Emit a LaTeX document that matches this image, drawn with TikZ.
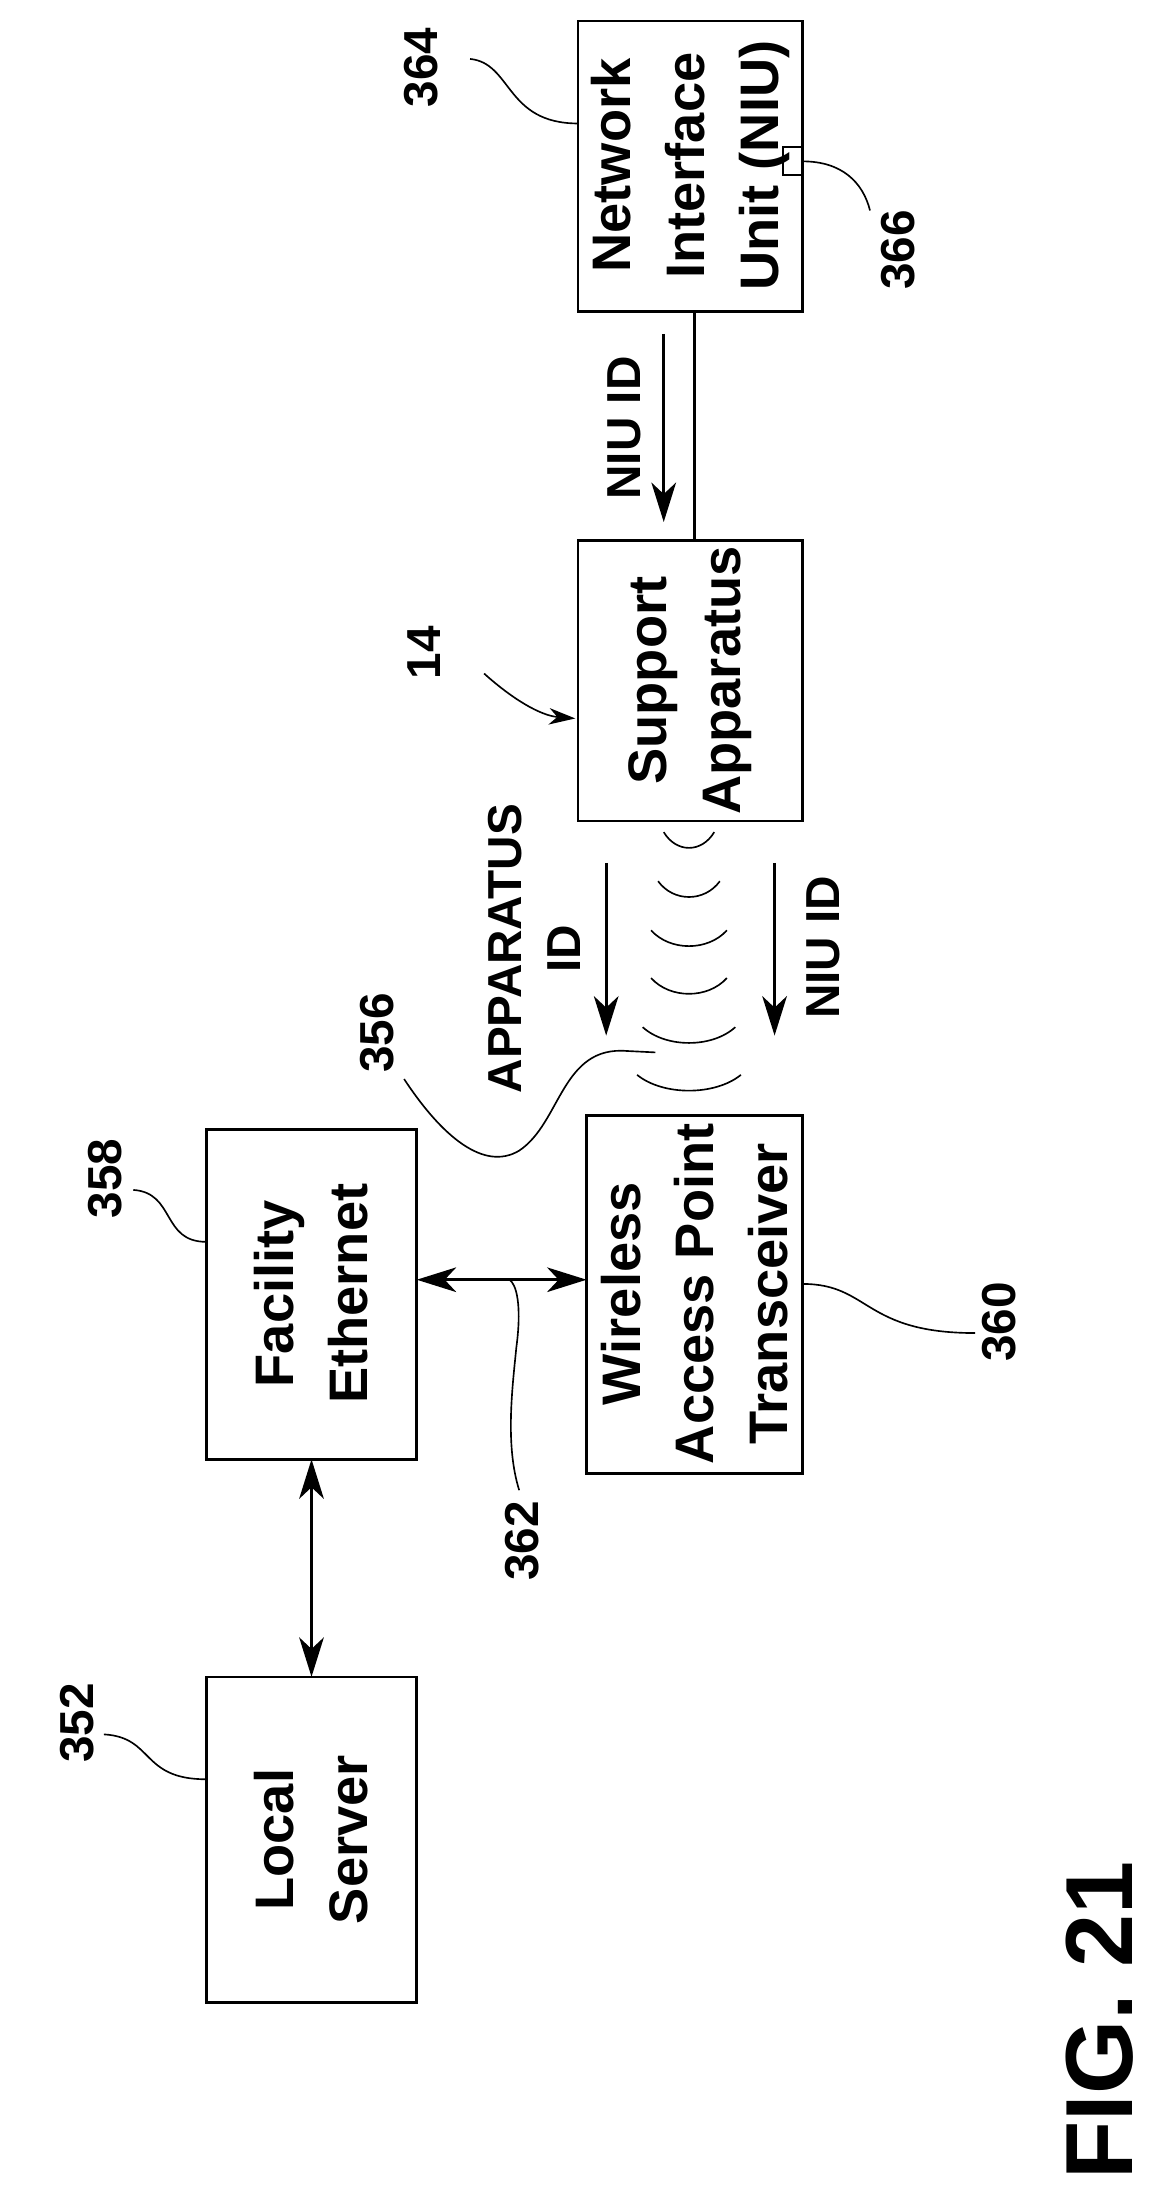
\documentclass[tikz,border=0pt]{standalone}
\usepackage{fontspec}
\setmainfont{Liberation Sans}
\usetikzlibrary{arrows.meta}
\begin{document}
\begin{tikzpicture}[x=0.3mm,y=-0.3mm,
  box/.style={draw,line width=1.6pt},
  txt/.style={rotate=90,font=\fontsize{33}{45}\selectfont\bfseries,align=center},
  ltxt/.style={rotate=90,font=\fontsize{29}{36}\selectfont\bfseries,align=center},
  lab/.style={rotate=90,font=\fontsize{29}{34}\selectfont\bfseries},
  lead/.style={line width=1pt},
  arr/.style={line width=1.6pt,-{Stealth[length=24pt,width=15pt,inset=7pt]}},
  darr/.style={line width=1.6pt,{Stealth[length=24pt,width=15pt,inset=7pt]}-{Stealth[length=24pt,width=15pt,inset=7pt]}},
  wave/.style={line width=1pt}]
\useasboundingbox (0,0) rectangle (830,1560);
% boxes
\draw[box] (412,15) rectangle (572,222);
\node[txt] (niu) at (492,118) {Network\\Interface\\Unit (NIU)};
\draw[box] (412,385) rectangle (572,585);
\node[txt] (sup) at (492,485) {Support\\Apparatus};
\draw[box] (418,795) rectangle (572,1050);
\node[txt] (wap) at (495,922) {Wireless\\Access Point\\Transceiver};
\draw[box] (147,805) rectangle (297,1040);
\node[txt] (fac) at (222,922) {Facility\\Ethernet};
\draw[box] (147,1195) rectangle (297,1427);
\node[txt] (loc) at (222,1311) {Local\\Server};
\draw[line width=1.2pt] (558,105) rectangle (572,125);
% connectors
\coordinate (n1) at (495,222); \coordinate (s1) at (495,385);
\draw[line width=1.6pt] (n1) -- (s1);
\coordinate (a1) at (473,238); \coordinate (a2) at (473,372);
\draw[arr] (a1) -- (a2);
\node[lab] (lniu1) at (445,305) {NIU ID};
\coordinate (b1) at (432,615); \coordinate (b2) at (432,738);
\draw[arr] (b1) -- (b2);
\node[ltxt] (lapp) at (381,676) {APPARATUS\\ID};
\coordinate (c1) at (552,615); \coordinate (c2) at (552,738);
\draw[arr] (c1) -- (c2);
\node[lab] (lniu2) at (587,675) {NIU ID};
\coordinate (h1) at (297,912); \coordinate (h2) at (418,912);
\draw[darr] (h1) -- (h2);
\coordinate (v1) at (222,1040); \coordinate (v2) at (222,1195);
\draw[darr] (v1) -- (v2);
% waves
\foreach \yb/\w in {605/18,640/22,675/27,709/27,744/33,778/37}{
  \draw[wave] (491-\w,\yb-12) .. controls (491-\w/2,\yb+3) and (491+\w/2,\yb+3) .. (491+\w,\yb-12);
}
% reference labels and leaders
\node[lab] (t364) at (300,48) {364};
\coordinate (l364a) at (335,42); \coordinate (l364b) at (412,88);
\draw[lead] (l364a) .. controls (365,45) and (360,88) .. (l364b);
\node[lab] (t366) at (640,178) {366};
\coordinate (l366a) at (572,115); \coordinate (l366b) at (620,150);
\draw[lead] (l366a) .. controls (600,115) and (615,130) .. (l366b);
\node[lab] (t14) at (302,465) {14};
\coordinate (l14a) at (345,480); \coordinate (l14b) at (410,512);
\draw[lead,-{Stealth[length=16pt,width=10pt,inset=5pt]}] (l14a) .. controls (365,498) and (385,510) .. (l14b);
\node[lab] (t356) at (269,736) {356};
\coordinate (l356a) at (288,769); \coordinate (l356b) at (467,750);
\draw[lead] (l356a) .. controls (315,810) and (345,835) .. (370,820) .. controls (400,800) and (400,745) .. (447,749) -- (l356b);
\node[lab] (t358) at (75,840) {358};
\coordinate (l358a) at (95,848); \coordinate (l358b) at (147,885);
\draw[lead] (l358a) .. controls (125,850) and (115,885) .. (l358b);
\node[lab] (t352) at (55,1228) {352};
\coordinate (l352a) at (74,1236); \coordinate (l352b) at (147,1268);
\draw[lead] (l352a) .. controls (110,1238) and (100,1268) .. (l352b);
\node[lab] (t362) at (372,1098) {362};
\coordinate (l362a) at (370,1062); \coordinate (l362b) at (363,912);
\draw[lead] (l362a) .. controls (360,1030) and (365,990) .. (368,960) .. controls (372,930) and (368,915) .. (l362b);
\node[lab] (t360) at (712,942) {360};
\coordinate (l360a) at (572,915); \coordinate (l360b) at (695,950);
\draw[lead] (l360a) .. controls (620,915) and (615,950) .. (l360b);
\node[rotate=90,font=\fontsize{58}{58}\selectfont\bfseries] (fig) at (784,1440) {FIG. 21};
\end{tikzpicture}
\end{document}
